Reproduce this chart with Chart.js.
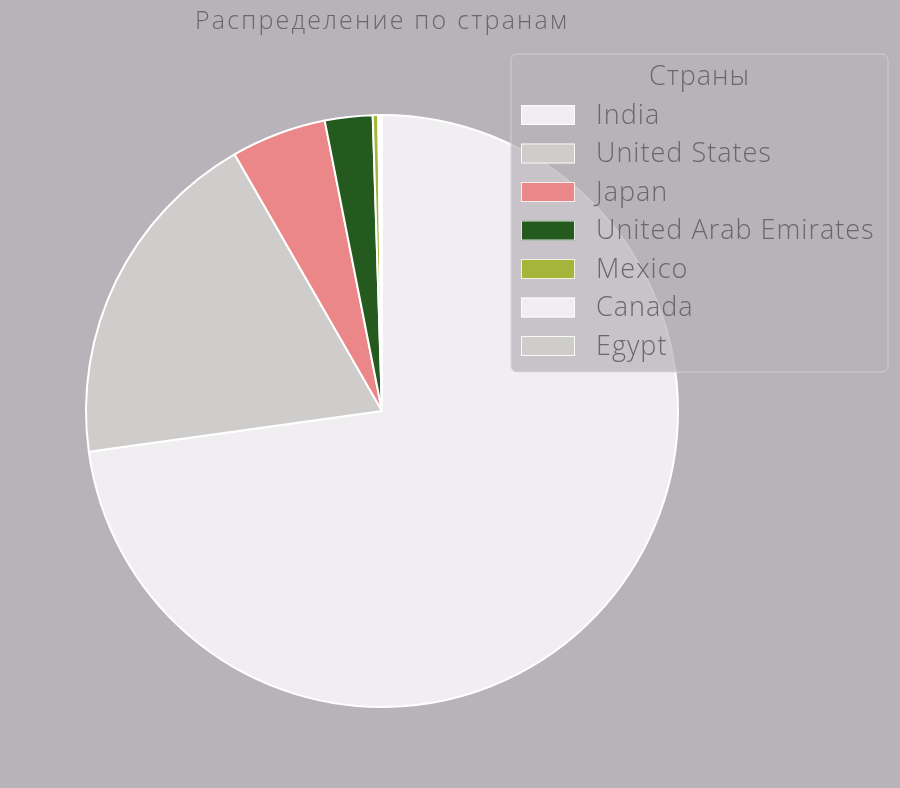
<!DOCTYPE html>
<html>
<head>
<meta charset="utf-8">
<script src="https://cdn.jsdelivr.net/npm/chart.js@4"></script>
<style>
  html, body { margin: 0; padding: 0; background: #b8b3b9; }
  #wrap { width: 900px; height: 788px; position: relative; }
</style>
</head>
<body>
<div id="wrap"><canvas id="chart" width="900" height="788"></canvas></div>
<script>
// Country shares
const countries = ['India', 'United States', 'Japan', 'United Arab Emirates', 'Mexico', 'Canada', 'Egypt'];
const counts = [728, 189, 52, 26, 3, 1, 1];
const sliceColors = ['#f0eef0', '#cfcdcb', '#ec8789', '#245a1e', '#a4b63a', '#f0eef0', '#cfcdcb'];

const chartTitle = 'Распределение по странам';
const legendTitle = 'Страны';

const FONT = "'Open Sans', 'DejaVu Sans', sans-serif";
const TEXT_COLOR = '#6b676c';

// Wide, airy lettering for the title
const letterSpacing = {
  id: 'letterSpacing',
  beforeDraw(chart) {
    chart.ctx.letterSpacing = '2.2px';
  }
};

// Legend box drawn on top of the pie, semi-transparent like a floating panel
const floatingLegend = {
  id: 'floatingLegend',
  afterDraw(chart) {
    const ctx = chart.ctx;
    const labels = chart.data.labels;
    const colors = chart.data.datasets[0].backgroundColor;
    const box = { x: 511, y: 54, w: 377, h: 318, r: 6 };
    ctx.save();
    ctx.beginPath();
    ctx.roundRect(box.x, box.y, box.w, box.h, box.r);
    ctx.fillStyle = 'rgba(184,179,185,0.72)';
    ctx.fill();
    ctx.strokeStyle = 'rgba(215,211,215,0.8)';
    ctx.lineWidth = 1;
    ctx.stroke();

    ctx.letterSpacing = '1px';
    ctx.fillStyle = TEXT_COLOR;
    ctx.font = `300 27px ${FONT}`;
    ctx.textBaseline = 'middle';
    ctx.textAlign = 'center';
    ctx.fillText(legendTitle, box.x + box.w / 2, 77);

    ctx.textAlign = 'left';
    const rowStart = 115, rowStep = 38.5;
    labels.forEach((lab, i) => {
      const cy = rowStart + i * rowStep;
      ctx.fillStyle = colors[i];
      ctx.fillRect(521, cy - 10, 54, 20);
      ctx.strokeStyle = 'rgba(255,255,255,0.85)';
      ctx.lineWidth = 1;
      ctx.strokeRect(521.5, cy - 9.5, 53, 19);
      ctx.fillStyle = TEXT_COLOR;
      ctx.fillText(lab, 596, cy + 1);
    });
    ctx.restore();
  }
};

new Chart(document.getElementById('chart'), {
  type: 'pie',
  data: {
    labels: countries,
    datasets: [{
      data: counts,
      backgroundColor: sliceColors,
      borderColor: '#ffffff',
      borderWidth: 2
    }]
  },
  options: {
    responsive: false,
    animation: false,
    layout: { padding: { left: 85, right: 221, top: 0, bottom: 80 } },
    plugins: {
      legend: { display: false },
      tooltip: { enabled: false },
      title: {
        display: true,
        text: chartTitle,
        fullSize: false,
        color: TEXT_COLOR,
        font: { family: FONT, size: 25, weight: '300' },
        padding: { top: 7, bottom: 77 }
      }
    }
  },
  plugins: [letterSpacing, floatingLegend]
});
</script>
</body>
</html>
